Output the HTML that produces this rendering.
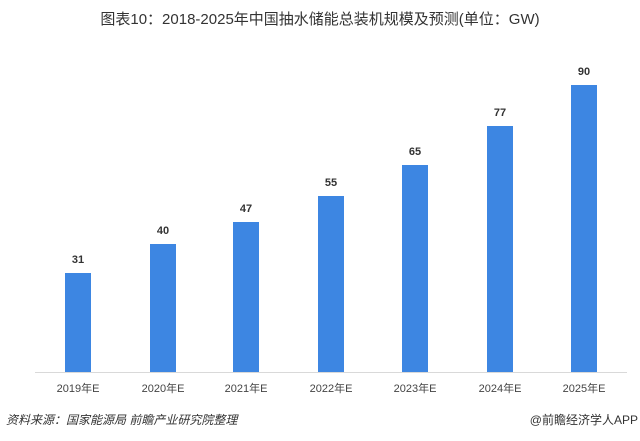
<!DOCTYPE html>
<html><head><meta charset="utf-8"><style>
body{margin:0;width:640px;height:441px;background:#fff;font-family:"Liberation Sans","Noto Sans CJK SC",sans-serif;position:relative;overflow:hidden}
.t{position:absolute;white-space:nowrap}
.bar{position:absolute;width:26px;background:#3d86e2;bottom:69px}
.v{position:absolute;width:40px;text-align:center;font-size:11px;font-weight:bold;color:#333}
.x{position:absolute;width:70px;text-align:center;font-size:11px;color:#444;top:380px}
</style></head><body>
<div class="t" style="left:0;width:640px;text-align:center;top:8px;font-size:15px;color:#333">图表10：2018-2025年中国抽水储能总装机规模及预测(单位：GW)</div>
<div style="position:absolute;left:35px;width:592px;top:372px;height:1px;background:#d9d9d9"></div>

<div class="bar" style="left:65px;top:273px;height:99px"></div>
<div class="bar" style="left:150px;top:244px;height:128px"></div>
<div class="bar" style="left:233px;top:222px;height:150px"></div>
<div class="bar" style="left:318px;top:196px;height:176px"></div>
<div class="bar" style="left:402px;top:165px;height:207px"></div>
<div class="bar" style="left:487px;top:126px;height:246px"></div>
<div class="bar" style="left:571px;top:85px;height:287px"></div>

<div class="v" style="left:58px;top:254px">31</div>
<div class="v" style="left:143px;top:225px">40</div>
<div class="v" style="left:226px;top:203px">47</div>
<div class="v" style="left:311px;top:177px">55</div>
<div class="v" style="left:395px;top:146px">65</div>
<div class="v" style="left:480px;top:107px">77</div>
<div class="v" style="left:564px;top:66px">90</div>

<div class="x" style="left:43px">2019年E</div>
<div class="x" style="left:128px">2020年E</div>
<div class="x" style="left:211px">2021年E</div>
<div class="x" style="left:296px">2022年E</div>
<div class="x" style="left:380px">2023年E</div>
<div class="x" style="left:465px">2024年E</div>
<div class="x" style="left:549px">2025年E</div>

<div class="t" style="left:6px;top:411px;font-size:12px;font-style:italic;color:#333">资料来源：国家能源局 前瞻产业研究院整理</div>
<div class="t" style="right:2px;top:411px;font-size:12px;color:#333">@前瞻经济学人APP</div>
</body></html>
